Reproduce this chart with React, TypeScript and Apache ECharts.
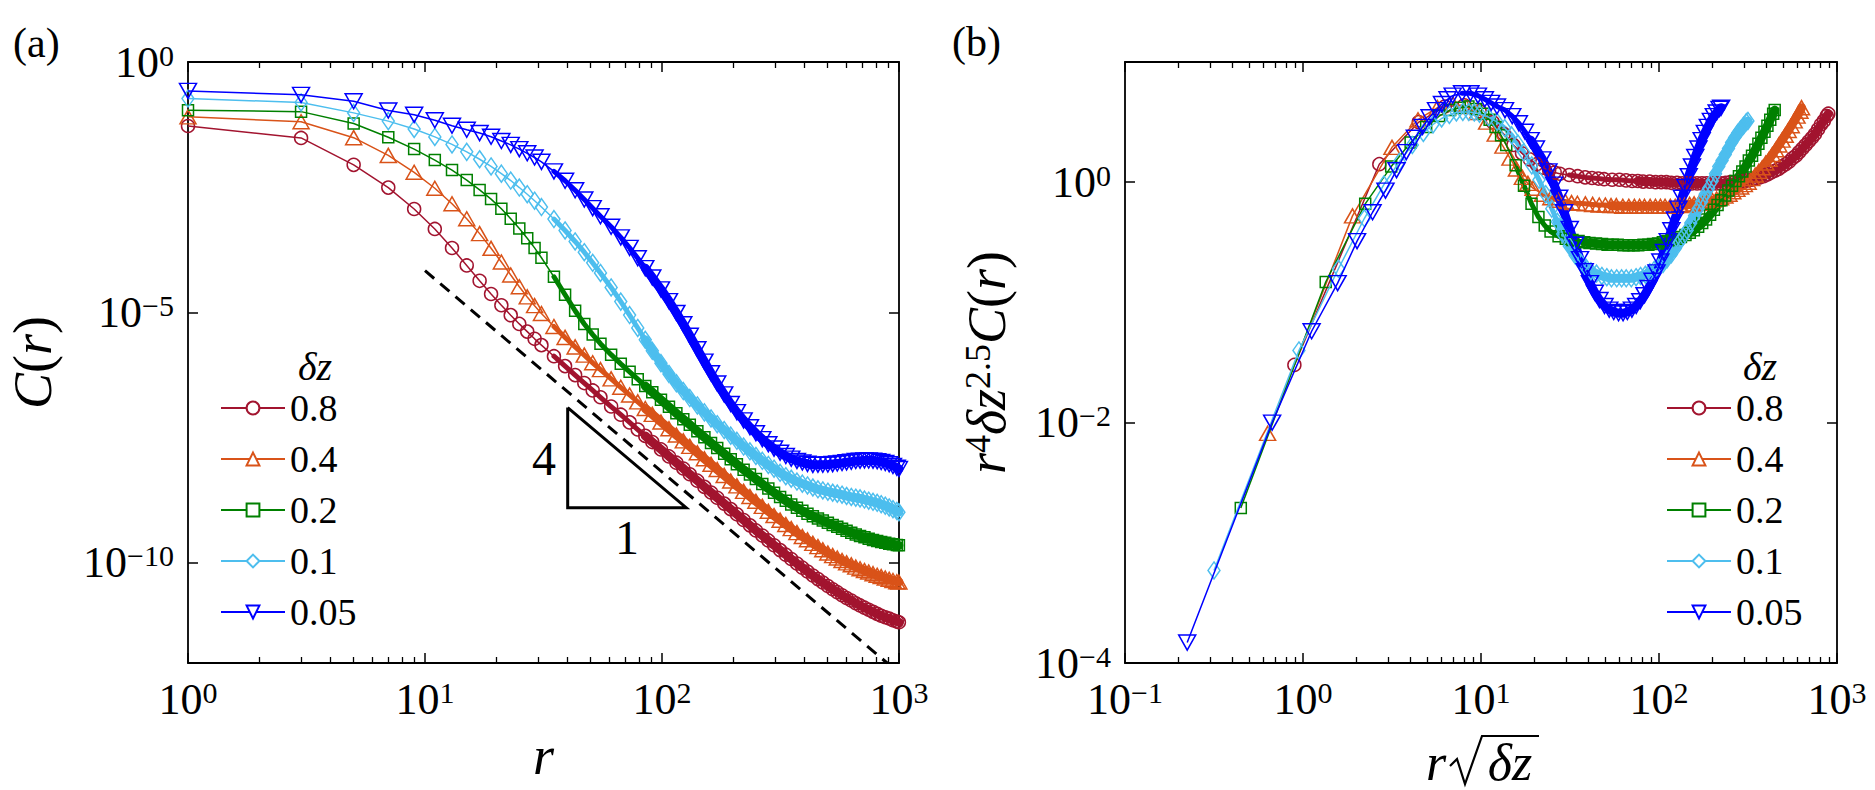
import React, { useEffect, useRef } from 'react';
import * as echarts from 'echarts';

const FONT = 'Liberation Serif, DejaVu Serif, serif';

// separation r (shared grid of the five runs)
const R = [
  1, 3, 5, 7, 9, 11, 13, 15, 17, 19,
  21, 23, 25, 27, 29, 31, 35, 39, 43, 47,
  51, 55, 61, 67, 73, 79, 85, 91, 99, 107,
  115, 123, 131, 141, 151, 161, 171, 183, 195, 207,
  221, 235, 249, 265, 281, 297, 315, 333, 351, 371,
  391, 411, 433, 455, 477, 501, 525, 549, 575, 601,
  629, 657, 685, 715, 745, 777, 809, 841, 875, 909,
  943, 979, 999,
];

const DZ = [0.8, 0.4, 0.2, 0.1, 0.05];
const NAMES = ['0.8', '0.4', '0.2', '0.1', '0.05'];
const COLORS = ['#A2142F', '#D95319', '#008000', '#4DBEEE', '#0000FF'];

// log10 of r^4 dz^2.5 C(r), read at the r values above
const LOGF_08 = [
  -1.52, 0.15, 0.50, 0.63, 0.64, 0.59, 0.50, 0.40, 0.31, 0.24,
  0.19, 0.15, 0.12, 0.10, 0.08, 0.07, 0.06, 0.05, 0.04, 0.035,
  0.03, 0.025, 0.02, 0.02, 0.015, 0.01, 0.01, 0.005, 0.005, 0,
  0, 0, -0.005, -0.005, -0.01, -0.01, -0.01, -0.01, -0.01, -0.01,
  -0.01, -0.01, -0.01, -0.005, 0, 0, 0.005, 0.01, 0.015, 0.02,
  0.03, 0.04, 0.05, 0.065, 0.08, 0.095, 0.11, 0.13, 0.15, 0.17,
  0.20, 0.22, 0.25, 0.28, 0.31, 0.34, 0.37, 0.40, 0.44, 0.48,
  0.51, 0.55, 0.57,
];
const LOGF_04 = [
  -2.09, -0.28, 0.29, 0.52, 0.62, 0.65, 0.63, 0.58, 0.50, 0.40,
  0.30, 0.20, 0.11, 0.04, -0.01, -0.05, -0.10, -0.13, -0.15, -0.16,
  -0.17, -0.175, -0.18, -0.185, -0.19, -0.19, -0.195, -0.195, -0.20, -0.20,
  -0.20, -0.20, -0.20, -0.20, -0.20, -0.20, -0.20, -0.20, -0.20, -0.195,
  -0.19, -0.185, -0.18, -0.175, -0.17, -0.16, -0.15, -0.14, -0.13, -0.115,
  -0.10, -0.08, -0.06, -0.04, -0.02, 0.00, 0.03, 0.06, 0.09, 0.12,
  0.16, 0.19, 0.23, 0.27, 0.31, 0.35, 0.39, 0.43, 0.47, 0.51,
  0.55, 0.59, 0.62,
];
const LOGF_02 = [
  -2.71, -0.83, -0.18, 0.13, 0.33, 0.46, 0.55, 0.60, 0.62, 0.63,
  0.61, 0.57, 0.52, 0.46, 0.39, 0.31, 0.14, -0.03, -0.18, -0.29,
  -0.36, -0.41, -0.45, -0.47, -0.48, -0.49, -0.50, -0.505, -0.51, -0.515,
  -0.52, -0.52, -0.52, -0.525, -0.525, -0.525, -0.525, -0.52, -0.52, -0.515,
  -0.51, -0.50, -0.49, -0.48, -0.47, -0.455, -0.44, -0.42, -0.40, -0.37,
  -0.34, -0.31, -0.27, -0.23, -0.19, -0.15, -0.11, -0.07, -0.03, 0.01,
  0.05, 0.09, 0.13, 0.18, 0.22, 0.27, 0.32, 0.37, 0.42, 0.47,
  0.52, 0.57, 0.60,
];
const LOGF_01 = [
  -3.23, -1.40, -0.72, -0.30, -0.02, 0.17, 0.31, 0.41, 0.48, 0.53,
  0.56, 0.58, 0.585, 0.585, 0.58, 0.57, 0.54, 0.50, 0.45, 0.39,
  0.32, 0.25, 0.14, 0.02, -0.10, -0.22, -0.33, -0.43, -0.53, -0.61,
  -0.67, -0.71, -0.74, -0.76, -0.78, -0.79, -0.80, -0.80, -0.80, -0.80,
  -0.80, -0.79, -0.78, -0.77, -0.75, -0.73, -0.71, -0.68, -0.64, -0.60,
  -0.55, -0.50, -0.45, -0.40, -0.34, -0.28, -0.22, -0.16, -0.10, -0.05,
  0.01, 0.07, 0.13, 0.18, 0.23, 0.28, 0.33, 0.37, 0.41, 0.44,
  0.47, 0.50, 0.51,
];
const LOGF_005 = [
  -3.83, -2.00, -1.24, -0.84, -0.49, -0.25, -0.07, 0.10, 0.25, 0.37,
  0.46, 0.54, 0.60, 0.65, 0.69, 0.72, 0.74, 0.74, 0.72, 0.69,
  0.66, 0.63, 0.60, 0.55, 0.49, 0.42, 0.35, 0.28, 0.19, 0.09,
  -0.02, -0.13, -0.25, -0.39, -0.52, -0.64, -0.74, -0.84, -0.92, -0.98,
  -1.03, -1.06, -1.08, -1.09, -1.09, -1.08, -1.06, -1.03, -0.99, -0.94,
  -0.88, -0.82, -0.75, -0.66, -0.58, -0.49, -0.40, -0.31, -0.22, -0.13,
  -0.04, 0.05, 0.13, 0.21, 0.28, 0.35, 0.41, 0.46, 0.51, 0.55,
  0.58, 0.61, 0.62,
];
const LOGF = [LOGF_08, LOGF_04, LOGF_02, LOGF_01, LOGF_005];

// where the markers of a run start to overlap (thin ribbon), and where they merge (full ribbon)
const OVERLAP_FROM = 16;
const MERGE_FROM = 26;

// tick exponents
const XA_MAJOR = [0, 1, 2, 3];
const XB_MAJOR = [-1, 0, 1, 2, 3];
const YA_MAJOR = [-10, -5, 0];
const YB_MAJOR = [-4, -2, 0];

// guide lines in panel (a): r^-4 dashed line and slope triangle
const DASH_R = [10, 891];
const DASH_C = [6.8e-5, 1.0e-12];
const TRI_R = [40, 40, 126.5, 40];
const TRI_C = [1.26e-7, 1.26e-9, 1.26e-9, 1.26e-7];

const SYMBOLS = ['circle', 'triangle', 'rect', 'diamond', 'path://M0,0L10,0L5,9Z'];
const SYMBOL_SIZES: any[] = [13, [16, 14], 11, [12, 17], [17, 15]];

const lg = Math.log10;

function minorTicks(from: number, to: number) {
  const out: number[] = [];
  for (let d = from; d < to; d++) for (let k = 2; k <= 9; k++) out.push(d + lg(k));
  return out;
}

const supLabel = (v: number) => {
  const e = Math.round(v);
  const s = e < 0 ? '\u2212' + Math.abs(e) : String(e);
  return `{b|10}{s|${s}}`;
};

const labelRich = {
  b: { fontSize: 44, fontFamily: FONT, color: '#000', lineHeight: 44, verticalAlign: 'bottom' },
  s: { fontSize: 30, fontFamily: FONT, color: '#000', lineHeight: 20, verticalAlign: 'top' },
};

const LINE = { show: true, onZero: false, lineStyle: { color: '#000', width: 1.8 } };
const NOLINE = { show: false, onZero: false };

function xAxes(grid: number, min: number, max: number, majors: number[], minors: number[]) {
  const base = { type: 'value', gridIndex: grid, min, max, interval: 1, splitLine: { show: false } };
  const tMaj = { show: true, inside: true, length: 10, customValues: majors, lineStyle: { color: '#000', width: 1.5 } };
  const tMin = { show: true, inside: true, length: 6, customValues: minors, lineStyle: { color: '#000', width: 1.3 } };
  return [
    { ...base, position: 'bottom', axisLine: LINE, axisTick: tMaj,
      axisLabel: { show: true, margin: 14, customValues: majors, formatter: supLabel, rich: labelRich } },
    { ...base, position: 'bottom', axisLine: NOLINE, axisTick: tMin, axisLabel: { show: false } },
    { ...base, position: 'top', axisLine: LINE, axisTick: tMaj, axisLabel: { show: false } },
    { ...base, position: 'top', axisLine: NOLINE, axisTick: tMin, axisLabel: { show: false } },
  ];
}

function yAxes(grid: number, min: number, max: number, majors: number[], mod: number, name: string, nameGap: number, nameRich: any) {
  const base = { type: 'value', gridIndex: grid, min, max, interval: 1, splitLine: { show: false } };
  const tMaj = { show: true, inside: true, length: 10, customValues: majors, lineStyle: { color: '#000', width: 1.5 } };
  return [
    { ...base, position: 'left', axisLine: LINE, axisTick: tMaj,
      axisLabel: { show: true, margin: 14, customValues: majors,
        formatter: (v: number) => (Math.round(v) % mod === 0 ? supLabel(v) : ''), rich: labelRich },
      name, nameLocation: 'middle', nameGap, nameMoveOverlap: false,
      nameTextStyle: { color: '#000', rich: nameRich } },
    { ...base, position: 'right', axisLine: LINE, axisTick: tMaj, axisLabel: { show: false } },
  ];
}

const nameRich = {
  i: { fontSize: 54, fontFamily: FONT, fontStyle: 'italic', color: '#000', lineHeight: 54, verticalAlign: 'bottom' },
  n: { fontSize: 54, fontFamily: FONT, color: '#000', lineHeight: 54, verticalAlign: 'bottom' },
  s: { fontSize: 36, fontFamily: FONT, color: '#000', lineHeight: 22, verticalAlign: 'top' },
};

function txt(text: string, x: number, y: number, size: number, italic = false, align = 'center') {
  const font = `${italic ? 'italic ' : ''}${size}px ${FONT}`;
  return {
    type: 'text', x, y, silent: true,
    style: { text, fill: '#000', font, align, verticalAlign: 'middle', textAlign: align, textVerticalAlign: 'middle' },
  };
}

function buildOption() {
  const pointsA = DZ.map((dz, i) => R.map((r, k) => [lg(r), LOGF[i][k] - 4 * lg(r) - 2.5 * lg(dz)]));
  const pointsB = DZ.map((dz, i) => R.map((r, k) => [lg(r) + 0.5 * lg(dz), LOGF[i][k]]));

  const markerSeries = (pts: number[][][], xi: number, yi: number) => pts.map((data, i) => ({
    type: 'line', name: NAMES[i], xAxisIndex: xi, yAxisIndex: yi,
    data,
    symbol: SYMBOLS[i], symbolSize: SYMBOL_SIZES[i], showAllSymbol: true,
    color: COLORS[i],
    lineStyle: { color: COLORS[i], width: 1.5 },
    itemStyle: { color: 'rgba(255,255,255,0)', borderColor: COLORS[i], borderWidth: 1.5 },
    emphasis: { disabled: true }, z: 4 + i,
  }));
  // ribbons where consecutive markers overlap
  const bandSeries = (pts: number[][][], xi: number, yi: number, from: number, width: number, tag: string) =>
    pts.map((data, i) => ({
      type: 'line', name: `${NAMES[i]} ${tag}`, xAxisIndex: xi, yAxisIndex: yi,
      data: data.slice(from), symbol: 'none', silent: true,
      lineStyle: { color: COLORS[i], width, cap: 'round', join: 'round' },
      emphasis: { disabled: true }, z: 3,
    }));

  const guides = [
    {
      type: 'line', name: 'r^-4', xAxisIndex: 0, yAxisIndex: 0, symbol: 'none', z: 10,
      data: DASH_R.map((r, k) => [lg(r), lg(DASH_C[k])]),
      lineStyle: { color: '#000', width: 3, type: [12, 8] }, emphasis: { disabled: true },
    },
    {
      type: 'line', name: 'slope', xAxisIndex: 0, yAxisIndex: 0, symbol: 'none', z: 10,
      data: TRI_R.map((r, k) => [lg(r), lg(TRI_C[k])]),
      lineStyle: { color: '#000', width: 3, join: 'miter' }, emphasis: { disabled: true },
    },
  ];

  const legendBase = {
    data: NAMES, orient: 'vertical', top: 388, itemWidth: 64, itemHeight: 16, itemGap: 11, padding: 0,
    selectedMode: false, itemStyle: { color: '#fff' },
    textStyle: { fontSize: 38, fontFamily: FONT, color: '#000', lineHeight: 40 },
  };

  return {
    animation: false,
    backgroundColor: '#fff',
    grid: [
      { left: 188, top: 62, width: 711, height: 601, outerBoundsMode: 'none' },
      { left: 1125, top: 62, width: 712, height: 601, outerBoundsMode: 'none' },
    ],
    xAxis: [
      ...xAxes(0, 0, 3, XA_MAJOR, minorTicks(0, 3)),
      ...xAxes(1, -1, 3, XB_MAJOR, minorTicks(-1, 3)),
    ].map((a: any, idx) => (idx === 0 ? {
      ...a, name: '{i|r}', nameLocation: 'middle', nameGap: 66, nameMoveOverlap: false,
      nameTextStyle: { color: '#000', rich: nameRich },
    } : a)),
    yAxis: [
      ...yAxes(0, -12, 0, YA_MAJOR, 5, '{i|C}{n|(}{i|r}{n|)}', 128, nameRich),
      ...yAxes(1, -4, 1, YB_MAJOR, 2, '{i|r}{s|4}{i|δz}{s|2.5}{i|C}{n|(}{i|r}{n|)}', 111, nameRich),
    ],
    legend: [
      { ...legendBase, left: 220 },
      { ...legendBase, left: 1666 },
    ],
    series: [
      ...bandSeries(pointsA, 0, 0, OVERLAP_FROM, 5, 'overlap'),
      ...bandSeries(pointsA, 0, 0, MERGE_FROM, 9, 'merged'),
      ...markerSeries(pointsA, 0, 0),
      ...bandSeries(pointsB, 4, 2, OVERLAP_FROM, 5, 'overlap'),
      ...bandSeries(pointsB, 4, 2, MERGE_FROM, 9, 'merged'),
      ...markerSeries(pointsB, 4, 2),
      ...guides,
    ],
    graphic: [
      txt('(a)', 13, 43, 42, false, 'left'),
      txt('(b)', 952, 42, 42, false, 'left'),
      txt('δz', 315, 366, 40, true),
      txt('δz', 1760, 366, 40, true),
      txt('4', 544, 458, 48),
      txt('1', 627, 537, 48),
      txt('r', 1436, 762, 52, true),
      txt('δz', 1510, 762, 52, true),
      {
        type: 'polyline', silent: true,
        shape: { points: [[1450, 766], [1457, 759], [1465, 784], [1482, 736], [1539, 736]] },
        style: { stroke: '#000', lineWidth: 2.2, fill: null },
      },
    ],
  };
}

export default function App() {
  const ref = useRef<HTMLDivElement>(null);
  useEffect(() => {
    if (!ref.current) return;
    const chart = echarts.init(ref.current, undefined, { renderer: 'svg' });
    chart.setOption(buildOption() as any);
    return () => chart.dispose();
  }, []);
  return (
    <div
      ref={ref}
      style={{ position: 'absolute', left: 0, top: 0, width: 1875, height: 790, background: '#fff' }}
    />
  );
}
